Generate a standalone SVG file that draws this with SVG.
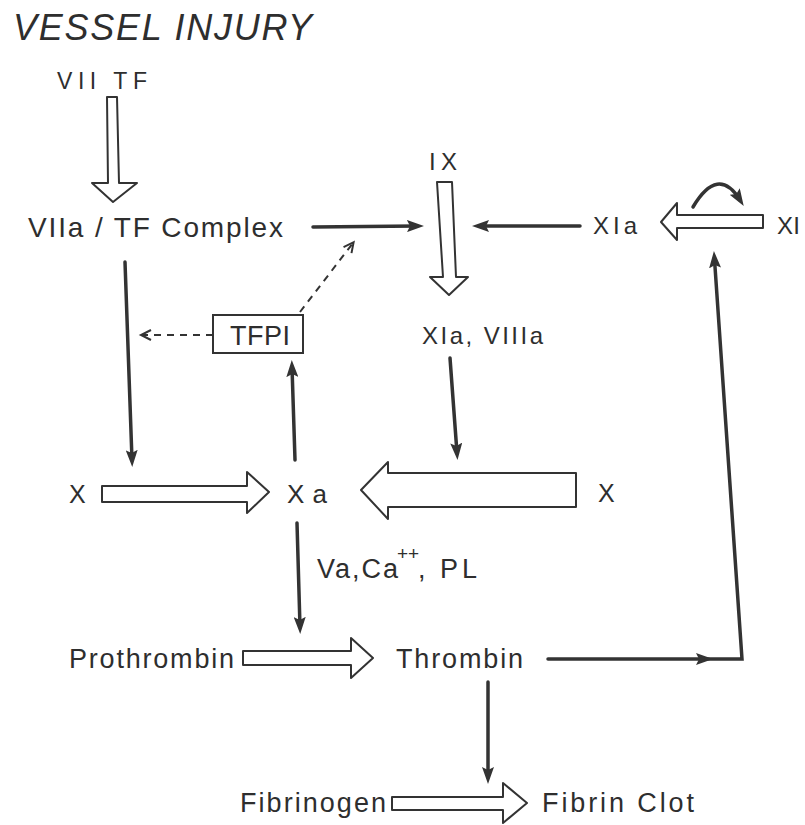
<svg xmlns="http://www.w3.org/2000/svg" width="805" height="825" viewBox="0 0 805 825">
<style>
text{font-family:"Liberation Sans",Arial,sans-serif;fill:#2e2e2e}
.ln{stroke:#333;stroke-width:3.5;fill:none;stroke-linecap:round}
.dash{stroke:#333;stroke-width:2;fill:none;stroke-dasharray:7 6}
.block{fill:#fff;stroke:#333;stroke-width:2;stroke-linejoin:round}
.box{fill:#fff;stroke:#333;stroke-width:2}
</style>
<defs>
<marker id="ah" markerUnits="userSpaceOnUse" markerWidth="18" markerHeight="12" refX="10" refY="6" orient="auto">
<path d="M0,0 L17,6 L0,12 L3,6 z" fill="#333"/>
</marker>
<marker id="oh" markerUnits="userSpaceOnUse" markerWidth="14" markerHeight="14" refX="10" refY="6" orient="auto">
<path d="M1,1 L11,6 L1,11" fill="none" stroke="#333" stroke-width="2"/>
</marker>
</defs>
<rect width="805" height="825" fill="#fff"/>

<g id="title"><text x="13" y="40" font-size="36" font-style="italic" textLength="299" lengthAdjust="spacing">VESSEL INJURY</text></g>

<g id="connectors">
<polygon class="block" points="107,97 117,97 119,183 137,183 113,202 92,183 108,183"/>
<polygon class="block" points="437,182 452,182 456,277 468,277 449,295 430,277 443,277"/>
<polygon class="block" points="763,215 763,228 677,228 677,240 661,222 677,203 677,215"/>
<polygon class="block" points="102,486 247,486 247,472 269,492 247,513 247,502 102,502"/>
<polygon class="block" points="576,473 576,507 388,507 388,519 361,490 388,462 388,473"/>
<polygon class="block" points="243,651 351,651 351,638 373,658 351,678 351,665 243,665"/>
<polygon class="block" points="392,797 503,797 503,783 527,803 503,823 503,810 392,810"/>

<line class="ln" x1="313" y1="227" x2="417" y2="226" marker-end="url(#ah)"/>
<line class="ln" x1="580" y1="226" x2="479" y2="226" marker-end="url(#ah)"/>
<line class="ln" x1="125" y1="262" x2="132" y2="460" marker-end="url(#ah)"/>
<line class="dash" x1="213" y1="335" x2="142" y2="335" marker-end="url(#oh)"/>
<line class="dash" x1="300" y1="312" x2="353" y2="243" marker-end="url(#oh)"/>
<line class="ln" x1="295" y1="460" x2="292" y2="367" marker-end="url(#ah)"/>
<line class="ln" x1="450" y1="358" x2="457" y2="453" marker-end="url(#ah)"/>
<line class="ln" x1="297" y1="523" x2="300" y2="627" marker-end="url(#ah)"/>
<line class="ln" x1="548" y1="659" x2="706" y2="659" marker-end="url(#ah)"/>
<path class="ln" d="M706,659 L742,659 L714.4,258" marker-end="url(#ah)"/>
<line class="ln" x1="488" y1="682" x2="488" y2="777" marker-end="url(#ah)"/>
<path class="ln" d="M693,207 Q718,165 740,200" stroke-width="3" marker-end="url(#ah)"/>
</g>

<g id="n-vii-tf"><text x="57" y="89" font-size="23" textLength="90" lengthAdjust="spacing">VII TF</text></g>
<g id="n-viia-tf"><text x="28" y="237" font-size="28" textLength="255" lengthAdjust="spacing">VIIa / TF Complex</text></g>
<g id="n-ix"><text x="429" y="170" font-size="24" textLength="28" lengthAdjust="spacing">IX</text></g>
<g id="n-xia"><text x="593" y="234" font-size="24" textLength="44" lengthAdjust="spacing">XIa</text></g>
<g id="n-xi"><text x="777" y="234" font-size="24" textLength="23" lengthAdjust="spacing">XI</text></g>
<g id="n-tfpi"><rect class="box" x="213" y="315" width="90" height="38"/><text x="230" y="345" font-size="27" textLength="60" lengthAdjust="spacing">TFPI</text></g>
<g id="n-xia-viiia"><text x="422" y="344" font-size="24" textLength="121" lengthAdjust="spacing">XIa, VIIIa</text></g>
<g id="n-x-left"><text x="69" y="503" font-size="25">X</text></g>
<g id="n-xa"><text x="287" y="503" font-size="26" textLength="40" lengthAdjust="spacing">Xa</text></g>
<g id="n-x-right"><text x="598" y="502" font-size="25">X</text></g>
<g id="n-cofactors"><text x="317" y="578" font-size="27"><tspan textLength="81" lengthAdjust="spacing">Va,Ca</tspan><tspan x="397" y="560" font-size="19">++</tspan><tspan x="418" y="578">,</tspan><tspan x="440" y="578" textLength="37" lengthAdjust="spacing">PL</tspan></text></g>
<g id="n-prothrombin"><text x="69" y="668" font-size="27" textLength="165" lengthAdjust="spacing">Prothrombin</text></g>
<g id="n-thrombin"><text x="396" y="668" font-size="27" textLength="127" lengthAdjust="spacing">Thrombin</text></g>
<g id="n-fibrinogen"><text x="240" y="812" font-size="27" textLength="146" lengthAdjust="spacing">Fibrinogen</text></g>
<g id="n-fibrin"><text x="542" y="812" font-size="27" textLength="152" lengthAdjust="spacing">Fibrin Clot</text></g>
</svg>
